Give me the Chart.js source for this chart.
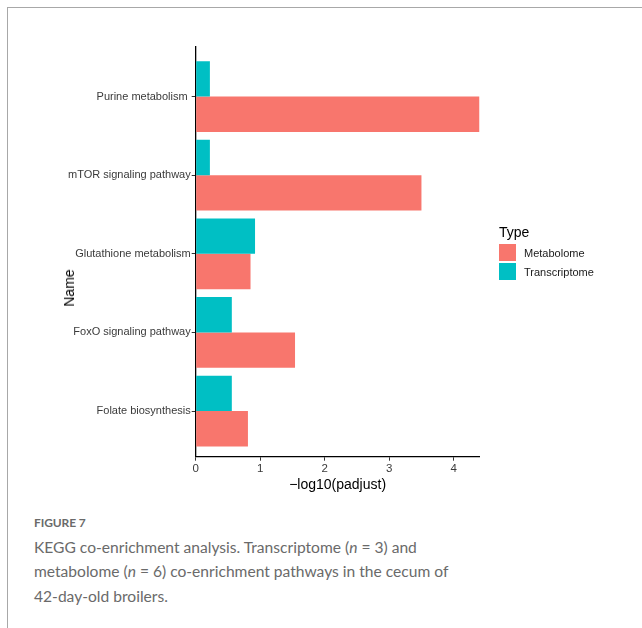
<!DOCTYPE html>
<html>
<head>
<meta charset="utf-8">
<script src="https://cdn.jsdelivr.net/npm/chart.js@4/dist/chart.umd.min.js"></script>
<style>
  html, body { margin: 0; padding: 0; background: #fff; }
  body { width: 642px; height: 628px; position: relative; overflow: hidden; }
  .frame { position: absolute; left: 7px; top: 7px; width: 700px; height: 700px;
           border-left: 1.5px solid #a8a8a8; border-top: 1.5px solid #a8a8a8; }
  #chart { position: absolute; left: 0; top: 0; }
  .ytitle { position: absolute; left: 69px; top: 288px; transform: translate(-50%, -50%) rotate(-90deg);
            font-family: "Liberation Sans", Arial, sans-serif; font-size: 14px; color: #000; white-space: nowrap; }
  .legend { position: absolute; left: 499px; top: 224px; font-family: "Liberation Sans", Arial, sans-serif; }
  .legend .ttl { font-size: 14px; color: #000; height: 19px; }
  .legend .item { display: flex; align-items: center; height: 19px; font-size: 11px; color: #1a1a1a; }
  .legend .sw { width: 17px; height: 17px; margin-right: 8px; }
  .caption { position: absolute; left: 34px; top: 515px; font-family: Lato, "Open Sans", sans-serif; color: #6a6a6a; }
  .caption .fig { font-size: 12px; font-weight: 700; color: #6a6a6a; line-height: 16px; letter-spacing: -0.1px; }
  .caption .txt { font-size: 15.6px; font-weight: 400; line-height: 24.4px; margin-top: 4px; }
</style>
</head>
<body>
<div class="frame"></div>
<canvas id="chart" width="642" height="500"></canvas>
<div class="ytitle">Name</div>
<div class="legend" id="legend"></div>
<div class="caption">
  <div class="fig">FIGURE 7</div>
  <div class="txt">KEGG co-enrichment analysis. Transcriptome (<i>n</i> = 3) and<br>metabolome (<i>n</i> = 6) co-enrichment pathways in the cecum of<br>42-day-old broilers.</div>
</div>
<script>
// pathways from top to bottom
const pathways = ["Purine metabolism ", "mTOR signaling pathway", "Glutathione metabolism", "FoxO signaling pathway", "Folate biosynthesis"];
const transcriptome = [0.22, 0.22, 0.92, 0.56, 0.56];
const metabolome = [4.40, 3.50, 0.85, 1.54, 0.81];
const xTicks = [0, 1, 2, 3, 4];

const tealColor = "#00BFC4";
const salmonColor = "#F8766D";

const axisFont = { family: "'Liberation Sans', Arial, sans-serif", size: 11 };

const ctx = document.getElementById("chart");

const chart = new Chart(ctx, {
  type: "bar",
  data: {
    datasets: [
      {
        label: "Transcriptome",
        data: pathways.map((p, i) => ({ y: i + 1, x: transcriptome[i] })),
        backgroundColor: tealColor,
        borderWidth: 0,
      },
      {
        label: "Metabolome",
        data: pathways.map((p, i) => ({ y: i + 1, x: metabolome[i] })),
        backgroundColor: salmonColor,
        borderWidth: 0,
      },
    ],
  },
  options: {
    indexAxis: "y",
    responsive: false,
    animation: false,
    categoryPercentage: 0.9,
    barPercentage: 1.0,
    layout: { padding: { left: 61, top: 47, right: 162.5, bottom: 6.6 } },
    plugins: { legend: { display: false }, tooltip: { enabled: false } },
    scales: {
      x: {
        type: "linear",
        min: 0,
        max: 4.4,
        offset: false,
        afterFit: (scale) => { scale.height = 36.7; },
        afterBuildTicks: (scale) => { scale.ticks = xTicks.map(v => ({ value: v })); },
        ticks: { font: { family: axisFont.family, size: 11.5 }, color: "#3a3a3a", padding: 1, maxRotation: 0 },
        grid: { offset: false, drawOnChartArea: false, drawTicks: true, tickLength: 4, color: "#333", lineWidth: 1 },
        border: { color: "#000", width: 1.3 },
        title: { display: true, text: "\u2212log10(padjust)", color: "#000",
                 font: { family: axisFont.family, size: 14 }, padding: 0 },
      },
      y: {
        type: "linear",
        reverse: true,
        min: 0.37,
        max: 5.58,
        offset: false,
        afterFit: (scale) => { scale.width = 134.7; },
        afterBuildTicks: (scale) => { scale.ticks = pathways.map((p, i) => ({ value: i + 1 })); },
        ticks: { font: axisFont, color: "#3a3a3a", padding: 1, autoSkip: false,
                 callback: (v) => pathways[v - 1] },
        grid: { offset: false, drawOnChartArea: false, drawTicks: true, tickLength: 4, color: "#333", lineWidth: 1 },
        border: { color: "#000", width: 1.3 },
      },
    },
  },
});

// legend in the ggplot style: Metabolome listed first
const legend = document.getElementById("legend");
let html = '<div class="ttl">Type</div>';
chart.data.datasets.slice().reverse().forEach(ds => {
  html += '<div class="item"><span class="sw" style="background:' + ds.backgroundColor + '"></span>' + ds.label + '</div>';
});
legend.innerHTML = html;
</script>
</body>
</html>
